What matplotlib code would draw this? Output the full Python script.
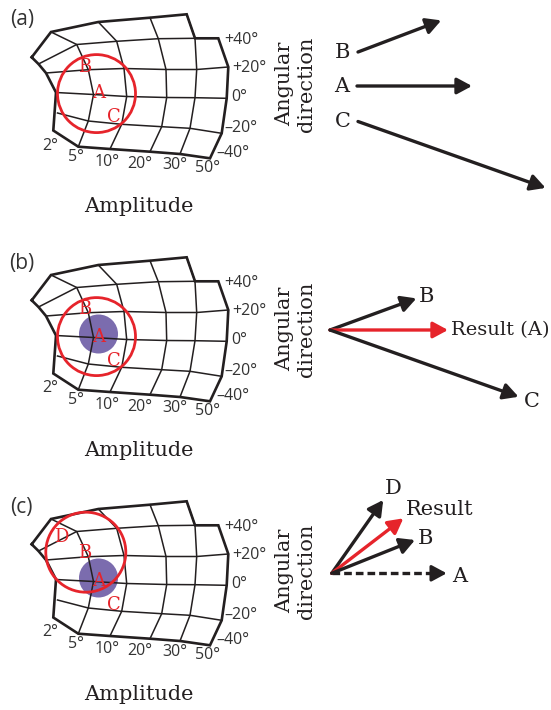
import numpy as np
import matplotlib
matplotlib.use('Agg')
import matplotlib.pyplot as plt
from matplotlib.patches import Circle

# ---------------- data ----------------
panel_labels = ['(a)', '(b)', '(c)']
amplitude_labels = ['2°', '5°', '10°', '20°', '30°', '50°']
direction_labels = ['+40°', '+20°', '0°', '\u201320°', '\u201340°']

# warped collicular map: rows = top edge, +40, +20, 0, -20, -40 ; cols = 2,5,10,20,30,50 deg
mesh_x = np.array([
    [31.7, 51.0, 98.3, 150.0, 186.7, np.nan],
    [38.5, 76.7, 116.7, 158.3, 195.0, 218.3],
    [46.0, 88.3, 124.0, 166.0, 196.7, 228.3],
    [56.0, 93.5, 126.7, 166.7, 195.0, 226.7],
    [57.5, 88.3, 121.7, 161.7, 190.0, 221.7],
    [53.3, 78.3, 110.0, 150.0, 180.0, 210.0]])
mesh_y = np.array([
    [57.3, 32.0, 22.0, 17.7, 14.3, np.nan],
    [64.0, 44.5, 41.3, 38.7, 38.3, 38.3],
    [73.0, 69.7, 68.5, 69.5, 69.5, 67.0],
    [92.5, 94.5, 96.5, 97.5, 97.7, 98.3],
    [113.0, 121.0, 124.3, 126.7, 128.3, 133.3],
    [130.5, 146.7, 149.0, 151.7, 154.0, 158.3]])

# active sites on the map per panel (letter, x, y)
site_names = ['A', 'B', 'C', 'D']
site_x = [98.5, 85.0, 113.5, 61.7]
site_y = [93.5, 66.5, 117.5, 50.0]
panel_sites = [['A', 'B', 'C'], ['A', 'B', 'C'], ['A', 'B', 'C', 'D']]
# red activity circle (center x, y, radius) per panel
ring_x = [96.5, 96.5, 85.8]
ring_y = [93.6, 93.6, 65.2]
ring_r = [39.0, 39.0, 40.0]
# purple site per panel
blob_on = [False, True, True]
blob_x, blob_y, blob_r = 98.5, 91.0, 19.5

# vectors: names, angle (deg), length (px), colour, dashed
vec_a = dict(names=['B', 'A', 'C'], ang=[20.8, 0.0, -19.5], length=[89, 115, 199],
             col=['k', 'k', 'k'], dash=[False, False, False])
vec_b = dict(names=['B', 'Result (A)', 'C'], ang=[20.1, 0.0, -19.5], length=[92, 118, 200],
             col=['k', 'r', 'k'], dash=[False, False, False])
vec_c = dict(names=['D', 'Result', 'B', 'A'], ang=[54.9, 37.5, 21.8, 0.0],
             length=[89.6, 90.3, 89.7, 115], col=['k', 'r', 'k', 'k'],
             dash=[False, False, False, True])

# ---------------- style / layout ----------------
RED = '#e6242b'
PURPLE = '#7b6cae'
INK = '#231f20'
GREY = '#333333'
SERIF = 'DejaVu Serif'
SANS = 'Open Sans'
panel_dy = [0, 243, 487]

fig = plt.figure(figsize=(5.51, 7.10), dpi=100)
ax = fig.add_axes([0, 0, 1, 1])
ax.set_xlim(0, 551)
ax.set_ylim(710, 0)
ax.axis('off')

amp_dx = [-3, -2, -3, -10, -5, -3]
amp_ddy = [15, 10, 13, 12, 11, 10]
dir_dx = [6, 4, 5, 3, 6]
dir_ddy = [1.7, 1.3, -1.6, -5, -5]


def draw_map(dy, p):
    X = mesh_x
    Y = mesh_y + dy
    if blob_on[p]:
        ax.add_patch(Circle((blob_x, blob_y + dy), blob_r, color=PURPLE, lw=0, zorder=1))
    for r in range(1, 5):
        ax.plot(X[r], Y[r], color=INK, lw=1.1, zorder=2, solid_joinstyle='round')
    for c in range(1, 5):
        ax.plot(X[:, c], Y[:, c], color=INK, lw=1.1, zorder=2, solid_joinstyle='round')
    ox = list(X[0, :5]) + [X[1, 4]] + list(X[1:, 5]) + list(X[5, ::-1][1:]) + list(X[:5, 0][::-1][1:])
    oy = list(Y[0, :5]) + [Y[1, 4]] + list(Y[1:, 5]) + list(Y[5, ::-1][1:]) + list(Y[:5, 0][::-1][1:])
    ax.plot(ox, oy, color=INK, lw=1.9, zorder=3, solid_joinstyle='miter')
    for i, lab in enumerate(amplitude_labels):
        ax.text(X[5, i] + amp_dx[i], Y[5, i] + amp_ddy[i], lab, fontsize=11.5, family=SANS,
                color=GREY, ha='center', va='center')
    for j, lab in enumerate(direction_labels):
        ax.text(X[j + 1, 5] + dir_dx[j], Y[j + 1, 5] + dir_ddy[j], lab, fontsize=11.5, family=SANS,
                color=GREY, ha='left', va='center')
    ax.add_patch(Circle((ring_x[p], ring_y[p] + dy), ring_r[p], fill=False, ec=RED, lw=2.0, zorder=4))
    for nm in panel_sites[p]:
        k = site_names.index(nm)
        ax.text(site_x[k], site_y[k] + dy, nm, fontsize=13, family=SERIF, color=RED,
                ha='center', va='center', zorder=5)
    ax.text(138.5, 207 + dy, 'Amplitude', fontsize=15, family=SERIF, color=INK,
            ha='center', va='center')
    ax.text(21.7, 20 + dy, panel_labels[p], fontsize=15, family=SANS, color=GREY,
            ha='center', va='center')


def arrow(x0, y0, ang, length, color, dashed=False):
    t = np.deg2rad(ang)
    x1 = x0 + length * np.cos(t)
    y1 = y0 - length * np.sin(t)
    c = RED if color == 'r' else INK
    style = '-|>,head_length=0.5,head_width=0.27'
    if dashed:
        hl = 12
        xb = x1 - hl * np.cos(t)
        yb = y1 + hl * np.sin(t)
        ax.plot([x0, xb], [y0, yb], color=c, lw=2.4, dashes=(2.3, 1.2), solid_capstyle='butt',
                zorder=3)
        ax.annotate('', xy=(x1, y1), xytext=(xb - 2 * np.cos(t), yb + 2 * np.sin(t)),
                    arrowprops=dict(arrowstyle=style, mutation_scale=18, lw=2.2, color=c,
                                    shrinkA=0, shrinkB=0), zorder=4)
    else:
        ax.annotate('', xy=(x1, y1), xytext=(x0, y0),
                    arrowprops=dict(arrowstyle=style, mutation_scale=18, lw=2.4, color=c,
                                    shrinkA=0, shrinkB=0), zorder=4)
    return x1, y1


def angular_text(yc):
    ax.text(285, yc, 'Angular', rotation=90, fontsize=15, family=SERIF, color=INK,
            ha='center', va='center')
    ax.text(306.7, yc, 'direction', rotation=90, fontsize=15, family=SERIF, color=INK,
            ha='center', va='center')


for p in range(3):
    draw_map(panel_dy[p], p)

# panel (a) vectors: separate origins, labels at left
orig_a = [(358, 52), (357, 86), (358, 121.5)]
angular_text(84)
for i, nm in enumerate(vec_a['names']):
    x0, y0 = orig_a[i]
    arrow(x0, y0, vec_a['ang'][i], vec_a['length'][i], vec_a['col'][i], vec_a['dash'][i])
    ax.text(x0 - 15, y0, nm, fontsize=15, family=SERIF, color=INK, ha='center', va='center')

# panel (b)
angular_text(329)
ob = (330, 330)
lab_off_b = [(10, -2, 'center', 15), (3, 0, 'left', 14), (13, 5, 'center', 15)]
for i, nm in enumerate(vec_b['names']):
    x1, y1 = arrow(ob[0], ob[1], vec_b['ang'][i], vec_b['length'][i], vec_b['col'][i], vec_b['dash'][i])
    dx, ddy, ha, fs = lab_off_b[i]
    ax.text(x1 + dx, y1 + ddy, nm, fontsize=fs, family=SERIF, color=INK, ha=ha, va='center')

# panel (c)
angular_text(571)
oc = (331.7, 573.3)
lab_off_c = [(10, -11, 'center'), (3, -9, 'left'), (11, -1, 'center'), (13, 3, 'center')]
for i, nm in enumerate(vec_c['names']):
    x1, y1 = arrow(oc[0], oc[1], vec_c['ang'][i], vec_c['length'][i], vec_c['col'][i], vec_c['dash'][i])
    dx, ddy, ha = lab_off_c[i]
    ax.text(x1 + dx, y1 + ddy, nm, fontsize=15, family=SERIF, color=INK, ha=ha, va='center')

fig.savefig('out.png', dpi=100)
